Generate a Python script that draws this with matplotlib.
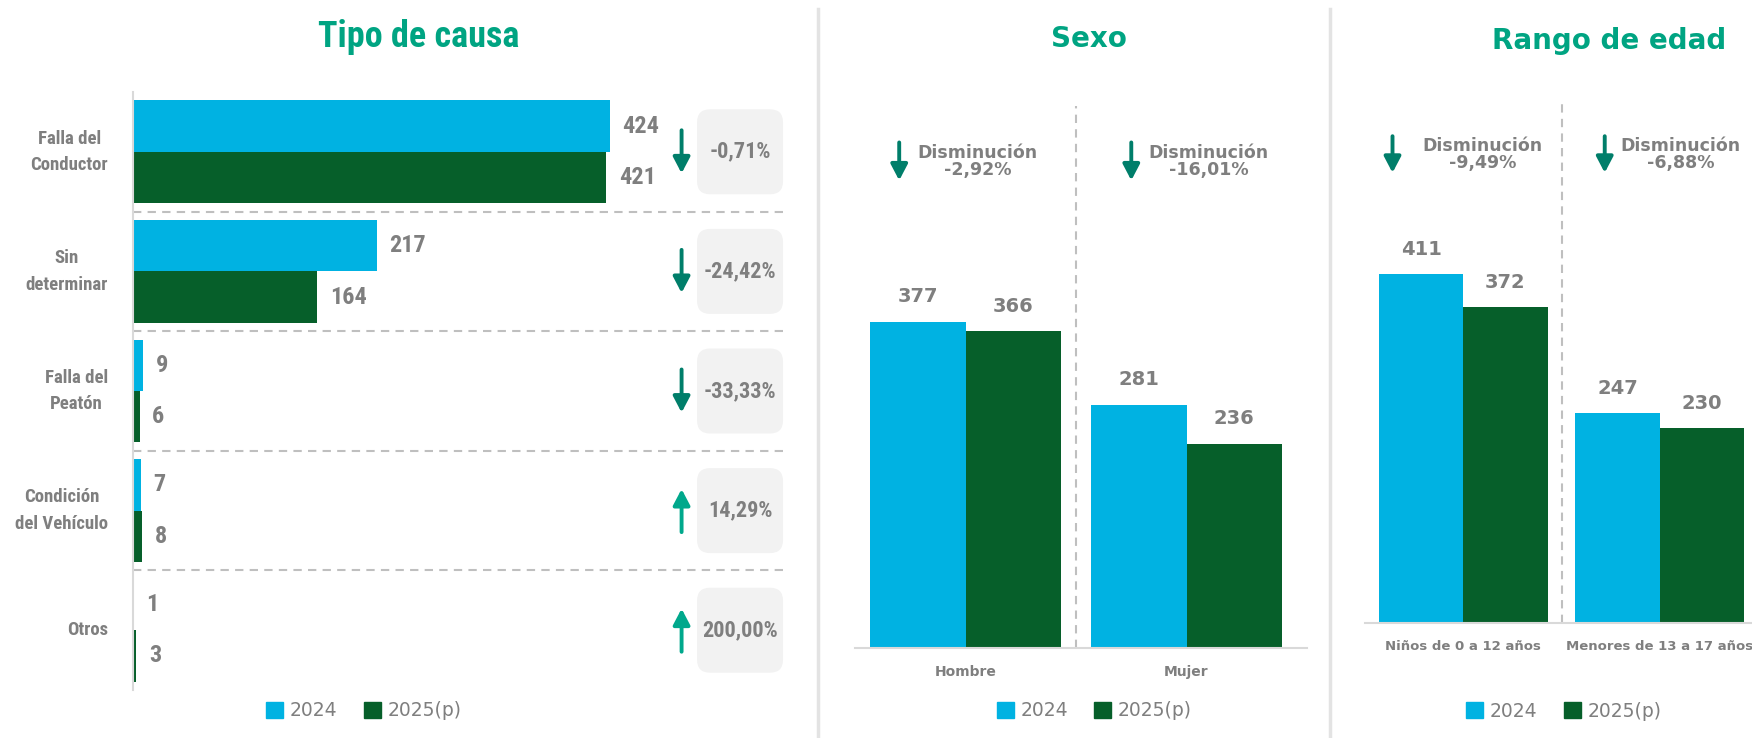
import numpy as np
import matplotlib
matplotlib.use("Agg")
import matplotlib.pyplot as plt
import matplotlib.transforms as mtransforms
from matplotlib import font_manager as fm
from matplotlib.patches import FancyBboxPatch, Patch
from matplotlib.lines import Line2D

# data
causas = ["Falla del\nConductor", "Sin\ndeterminar", "Falla del\nPeatón",
          "Condición\ndel Vehículo", "Otros"]
causa_2024 = [424, 217, 9, 7, 1]
causa_2025 = [421, 164, 6, 8, 3]

sexo = ["Hombre", "Mujer"]
sexo_2024 = [377, 281]
sexo_2025 = [366, 236]

edades = ["Niños de 0 a 12 años", "Menores de 13 a 17 años"]
edad_2024 = [411, 247]
edad_2025 = [372, 230]

series = ["2024", "2025(p)"]

C24 = "#00B2E2"
C25 = "#065F2A"
GREY = "#7F7F7F"
TEAL = "#00A482"
DOWN = "#007E6A"
UP = "#00A88C"
WIDE = ["DejaVu Sans"]


def pick_narrow():
    for fam in ["Roboto Condensed", "Liberation Sans Narrow", "Open Sans Condensed",
                "DejaVu Sans"]:
        try:
            path = fm.findfont(fm.FontProperties(family=fam, stretch="condensed",
                                                 weight="bold"),
                               fallback_to_default=False)
        except Exception:
            continue
        if "ondensed" in path or "arrow" in path:
            return fam
    return None


NARROW_FAM = pick_narrow()
NARROW = dict(family=[NARROW_FAM or "DejaVu Sans", "DejaVu Sans"], stretch="condensed")

W, H = 1752, 738
fig = plt.figure(figsize=(W / 100, H / 100), dpi=100)


def ax_px(l, t, r, b):
    return fig.add_axes([l / W, 1 - b / H, (r - l) / W, (b - t) / H])


def pct(a, b):
    return f"{(b - a) / a * 100:.2f}%".replace(".", ",")


def legend(ax, x, y):
    handles = [Patch(color=C24), Patch(color=C25)]
    ax.legend(handles, series, loc="center", bbox_to_anchor=(x, y), ncol=2,
              frameon=False, handlelength=0.9, handleheight=0.9,
              handletextpad=0.35, columnspacing=1.4,
              prop={"family": WIDE, "size": 13.5}, labelcolor=GREY)


def arrow(ax, x, y0, y1, color):
    ax.annotate("", xy=(x, y1), xytext=(x, y0),
                arrowprops=dict(arrowstyle="-|>,head_length=0.8,head_width=0.42",
                                lw=2.8, color=color, mutation_scale=12,
                                shrinkA=0, shrinkB=0))


# panel 1: tipo de causa
ax1 = ax_px(133, 92, 785, 690)
y = np.arange(len(causas))
h = 0.43
ax1.barh(y - h / 2, causa_2024, height=h, color=C24)
ax1.barh(y + h / 2, causa_2025, height=h, color=C25)
ax1.set_xlim(0, 580)
ax1.set_ylim(len(causas) - 0.5, -0.5)
for s in ["top", "right", "bottom"]:
    ax1.spines[s].set_visible(False)
ax1.spines["left"].set_color("#D9D9D9")
ax1.spines["left"].set_linewidth(1.5)
ax1.set_xticks([])
ax1.set_yticks(y)
ax1.set_yticklabels(causas, fontsize=13.5, color=GREY, fontweight="bold",
                    multialignment="center", linespacing=1.6, va="center", **NARROW)
ax1.tick_params(axis="y", length=0, pad=18)
for i in range(len(causas) - 1):
    ax1.axhline(i + 0.5, color="#BFBFBF", ls=(0, (4, 3)), lw=1.5)
for i in range(len(causas)):
    for v, yy in ((causa_2024[i], i - h / 2), (causa_2025[i], i + h / 2)):
        ax1.annotate(str(v), xy=(v, yy), xytext=(9, 0), textcoords="offset points",
                     ha="left", va="center", fontsize=17.5, fontweight="bold",
                     color=GREY, **NARROW)
    p = (causa_2025[i] - causa_2024[i]) / causa_2024[i]
    box_t = fig.dpi_scale_trans + mtransforms.ScaledTranslation(540, i, ax1.transData)
    ax1.add_patch(FancyBboxPatch((-0.43, -0.425), 0.86, 0.85,
                                 boxstyle="round,pad=0,rounding_size=0.13",
                                 fc="#F2F2F2", ec="none", transform=box_t))
    ax1.text(540, i, pct(causa_2024[i], causa_2025[i]), ha="center", va="center",
             fontsize=16, fontweight="bold", color=GREY, **NARROW)
    if p < 0:
        arrow(ax1, 488, i - 0.18, i + 0.18, DOWN)
    else:
        arrow(ax1, 488, i + 0.18, i - 0.18, UP)
legend(ax1, 0.354, -0.035)
fig.text(419 / W, 1 - 37 / H, "Tipo de causa", ha="center", va="center",
         fontsize=26, fontweight="bold", color=TEAL, **NARROW)


def column_panel(ax, cats, v24, v25, xmax, ytop, ann_y, arrow_dx, text_dx, fs):
    x = np.arange(len(cats))
    w = 0.43
    ax.bar(x - w / 2, v24, width=w, color=C24)
    ax.bar(x + w / 2, v25, width=w, color=C25)
    ax.set_xlim(-0.5, xmax)
    ax.set_ylim(0, ytop)
    for s in ["top", "right", "left"]:
        ax.spines[s].set_visible(False)
    ax.spines["bottom"].set_color("#D9D9D9")
    ax.spines["bottom"].set_linewidth(1.5)
    ax.set_yticks([])
    ax.set_xticks(x)
    ax.set_xticklabels(cats, fontsize=fs, fontweight="bold", color=GREY, family=WIDE)
    ax.tick_params(axis="x", length=0, pad=12)
    ax.axvline(0.5, color="#BFBFBF", ls=(0, (4, 3)), lw=1.5)
    for i in range(len(cats)):
        for v, xx in ((v24[i], i - w / 2), (v25[i], i + w / 2)):
            ax.annotate(str(v), xy=(xx, v), xytext=(0, 11), textcoords="offset points",
                        ha="center", va="bottom", fontsize=14, fontweight="bold",
                        color=GREY, family=WIDE)
        ax.text(i + text_dx[i], ann_y, "Disminución\n" + pct(v24[i], v25[i]),
                ha="center", va="center", fontsize=12.5, fontweight="bold",
                color=GREY, family=WIDE, linespacing=0.95)
        d = ytop * 0.035
        arrow(ax, i + arrow_dx[i], ann_y + d, ann_y - d, DOWN)


# panel 2: sexo
ax2 = ax_px(855, 106, 1307, 648)
column_panel(ax2, sexo, sexo_2024, sexo_2025, 1.545, 626, 562,
             [-0.30, -0.25], [0.055, 0.10], 10)
legend(ax2, 0.529, -0.116)
fig.text(1089 / W, 1 - 39 / H, "Sexo", ha="center", va="center",
         fontsize=20, fontweight="bold", color=TEAL, family=WIDE)

# panel 3: rango de edad
ax3 = ax_px(1365, 101, 1758, 623)
column_panel(ax3, edades, edad_2024, edad_2025, 1.5, 615, 552,
             [-0.36, -0.28], [0.10, 0.107], 9.5)
legend(ax3, 0.506, -0.169)
fig.text(1609 / W, 1 - 41 / H, "Rango de edad", ha="center", va="center",
         fontsize=20, fontweight="bold", color=TEAL, family=WIDE)

# panel dividers
for xd in (818, 1330):
    fig.add_artist(Line2D([xd / W, xd / W], [0, 1 - 9 / H], color="#E3E3E3", lw=2.5))

fig.savefig("out.png", dpi=100)
